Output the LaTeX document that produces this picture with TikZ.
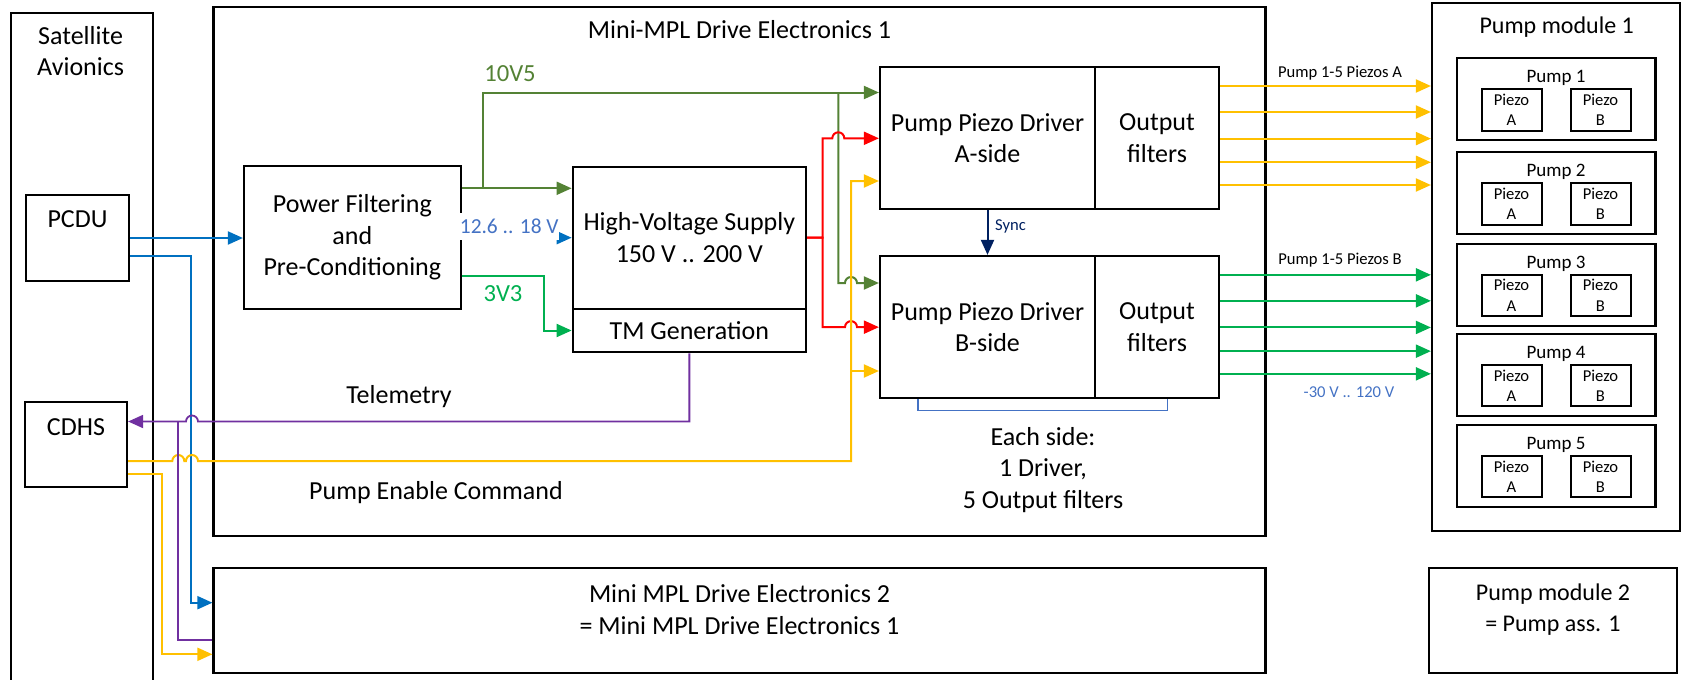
\documentclass[tikz,border=0pt]{standalone}
\usepackage{fontspec}
\setmainfont{Carlito}
\usepackage{xcolor}
\usetikzlibrary{arrows.meta,positioning,calc}

\definecolor{pwrblue}{HTML}{0070C0}
\definecolor{railgreen}{HTML}{548235}
\definecolor{lvgreen}{HTML}{00B050}
\definecolor{hvred}{HTML}{FF0000}
\definecolor{cmdyellow}{HTML}{FFC000}
\definecolor{tmpurple}{HTML}{7030A0}
\definecolor{syncblue}{HTML}{002060}
\definecolor{lblblue}{HTML}{4472C4}

\newcommand{\fsmain}{\fontsize{13}{15.7}\selectfont}
\newcommand{\fsmodule}{\fontsize{12}{15.5}\selectfont}
\newcommand{\fspump}{\fontsize{9.5}{11}\selectfont}
\newcommand{\fssmall}{\fontsize{8.3}{10.2}\selectfont}
\newcommand{\fsrail}{\fontsize{12.3}{14}\selectfont}
\newcommand{\fsvin}{\fontsize{10.7}{12}\selectfont}

\begin{document}
\begin{tikzpicture}[
    x=0.5pt, y=-0.5pt,
    block/.style={draw, line width=1.1pt, align=center, font=\fsmain, inner sep=2pt},
    pumpbox/.style={draw, line width=1.1pt, minimum width=99.4pt, minimum height=41pt},
    piezo/.style={draw, line width=1pt, minimum width=30pt, minimum height=20.7pt, align=center, font=\fssmall, inner sep=0pt},
    link/.style={line width=1pt, -{Triangle[length=7.5pt,width=6.5pt]}},
    plain/.style={line width=0.9pt}
]
\useasboundingbox (0,0) rectangle (1683,680);

% Satellite side
\node[block, anchor=north west, minimum width=71.05pt, minimum height=350pt] (sat) at (9.6,11.7) {};
\node[font=\fsmain, align=center] (sattxt) at (80.6,51) {Satellite\\Avionics};
\node[block, minimum width=51.5pt, minimum height=43pt] (pcdu) at (77.5,238) {};
\node[font=\fsmain] (pcdutxt) at (77.5,219) {PCDU};
\node[block, minimum width=51pt, minimum height=42.5pt] (cdhs) at (76,444.2) {};
\node[font=\fsmain] (cdhstxt) at (76,427) {CDHS};

% Drive electronics 1
\node[block, minimum width=526pt, minimum height=264.5pt] (de1) at (739.5,271.2) {};
\node[font=\fsmain] (de1txt) at (739.5,30) {Mini-MPL Drive Electronics 1};
\node[block, minimum width=108.35pt, minimum height=71.5pt] (pf) at (352.35,237.5) {Power Filtering\\and\\Pre-Conditioning};
\node[block, minimum width=116.65pt, minimum height=71pt] (hv) at (689.35,237.7) {High-Voltage Supply\\150 V .. 200 V};
\node[block, minimum width=116.65pt, minimum height=21.8pt] (tm) at (689.35,330.5) {TM Generation};
\node[block, minimum width=107.5pt, minimum height=71pt] (drva) at (987.5,138.3) {Pump Piezo Driver\\A-side};
\node[block, minimum width=62pt, minimum height=71pt] (filta) at (1157,138.3) {Output\\filters};
\node[block, minimum width=107.5pt, minimum height=71.15pt] (drvb) at (987.5,327.15) {Pump Piezo Driver\\B-side};
\node[block, minimum width=62pt, minimum height=71.15pt] (filtb) at (1157,327.15) {Output\\filters};

% Drive electronics 2
\node[block, minimum width=526pt, minimum height=52.5pt] (de2) at (739.5,620.8) {};
\node[font=\fsmain, align=center] (de2txt) at (739.5,609.5) {Mini MPL Drive Electronics 2\\= Mini MPL Drive Electronics 1};

% Pump modules
\node[block, minimum width=124pt, minimum height=264.15pt] (pm1) at (1556,267.2) {};
\node[font=\fsmodule] (pm1txt) at (1556.7,26.7) {Pump module 1};
\foreach \ptop [count=\i] in {58.3,152.3,243.7,334,425} {
  \node[pumpbox] (pump\i) at (1556,\ptop+41) {};
  \node[font=\fspump] (pump\i txt) at (1556,\ptop+20) {Pump \i};
  \node[piezo] (pz\i a) at (1511.5,\ptop+51.7) {Piezo\\A};
  \node[piezo] (pz\i b) at (1600.5,\ptop+51.7) {Piezo\\B};
}
\node[block, minimum width=124pt, minimum height=52.5pt] (pm2) at (1553,620.8) {};
\node[font=\fsmodule, align=center] (pm2txt) at (1553,609.5) {Pump module 2\\= Pump ass. 1};

% Supply lines
\coordinate (jv) at (483.3,188.3);
\coordinate (ytop) at (0,92.5);
\coordinate (jg) at (838.3,92.5);
\draw[link, pwrblue] (pcdu.east) -- (pcdu.east -| pf.west);
\draw[link, pwrblue] ($(pcdu.east)+(0,18)$) -| ($(de2.west)+(-21.2,-18.1)$) -- ($(de2.west)+(0,-18.1)$);
\draw[link, pwrblue] (pf.east) -- (hv.west);
\draw[link, railgreen] (pf.east |- jv) -- (hv.west |- jv);
\draw[link, railgreen] (jv) |- (drva.west |- ytop);
\draw[link, railgreen] (jg) |- (845,283) arc[start angle=180, end angle=360, radius=6] -- (drvb.west |- 0,283);
\draw[link, lvgreen] (pf.east |- 0,276) -| (544.3,330.5) -- (tm.west);
\draw[link, hvred] (hv.east) -- (822.7,237.7) |- (832.3,138.3) arc[start angle=180, end angle=360, radius=6] -- (drva.west);
\draw[link, hvred] (hv.east) -- (822.7,237.7) |- (845,327.15) arc[start angle=180, end angle=360, radius=6] -- (drvb.west);

% Commands and telemetry
\coordinate (ya) at (0,181);
\coordinate (ybr) at (851,371);
\coordinate (tel) at (0,421.5);
\draw[link, cmdyellow] ($(cdhs.east)+(0,16.8)$) -- (172.3,461) arc[start angle=180, end angle=360, radius=6] -- (186,461) arc[start angle=180, end angle=360, radius=6] -- (851,461) |- (drva.west |- ya);
\draw[link, cmdyellow] (ybr) -- (drvb.west |- ybr);
\draw[link, cmdyellow] ($(cdhs.east)+(0,30.1)$) -| ($(de2.west)+(-50.2,33.5)$) -- ($(de2.west)+(0,33.5)$);
\draw[link, tmpurple, line width=0.9pt] (tm.south) |- (198,421.5) arc[start angle=0, end angle=-180, radius=6] -- (cdhs.east |- tel);
\draw[plain, tmpurple] ($(de2.west)+(0,19.2)$) -| (178.3,421.5);
\draw[link, syncblue] (drva.south) -- (drvb.north) node[pos=0.35, right, font=\fssmall] (synclbl) {Sync};

% Outputs to the pumps
\foreach \dy [count=\k] in {-52.3,-26.3,0.3,24,46.7} {
  \coordinate (oa\k) at ($(filta.east)+(0,\dy)$);
  \coordinate (ob\k) at ($(filtb.east)+(0,\dy)$);
  \draw[link, cmdyellow] (oa\k) -- (oa\k -| pm1.west);
  \draw[link, lvgreen] (ob\k) -- (ob\k -| pm1.west);
}
\draw[lblblue, line width=0.6pt] ($(drvb.south west)+(39,0)$) |- ($(filtb.south east)+(-53,10.7)$) -- ($(filtb.south east)+(-53,0)$);

% Labels
\node[font=\fsvin, text=lblblue, fill=white, inner xsep=0pt, inner ysep=3pt, anchor=west] (vin) at (459.5,226.5) {12.6 .. 18 V};
\node[font=\fsrail, text=railgreen] (v10lbl) at (510,74) {10V5};
\node[font=\fsrail, text=lvgreen] (v3lbl) at (503,293.3) {3V3};
\node[font=\fsmain] (tmlbl) at (399,396.7) {Telemetry};
\node[font=\fsmain] (cmdlbl) at (436,492.3) {Pump Enable Command};
\node[font=\fsmain, align=center] (eachside) at (1043,470) {Each side:\\1 Driver,\\5 Output filters};
\node[font=\fssmall] (outa) at (1340,73.3) {Pump 1-5 Piezos A};
\node[font=\fssmall] (outb) at (1340,260) {Pump 1-5 Piezos B};
\node[font=\fssmall, text=lblblue] (vout) at (1349,392.3) {-30 V .. 120 V};

\end{tikzpicture}
\end{document}
